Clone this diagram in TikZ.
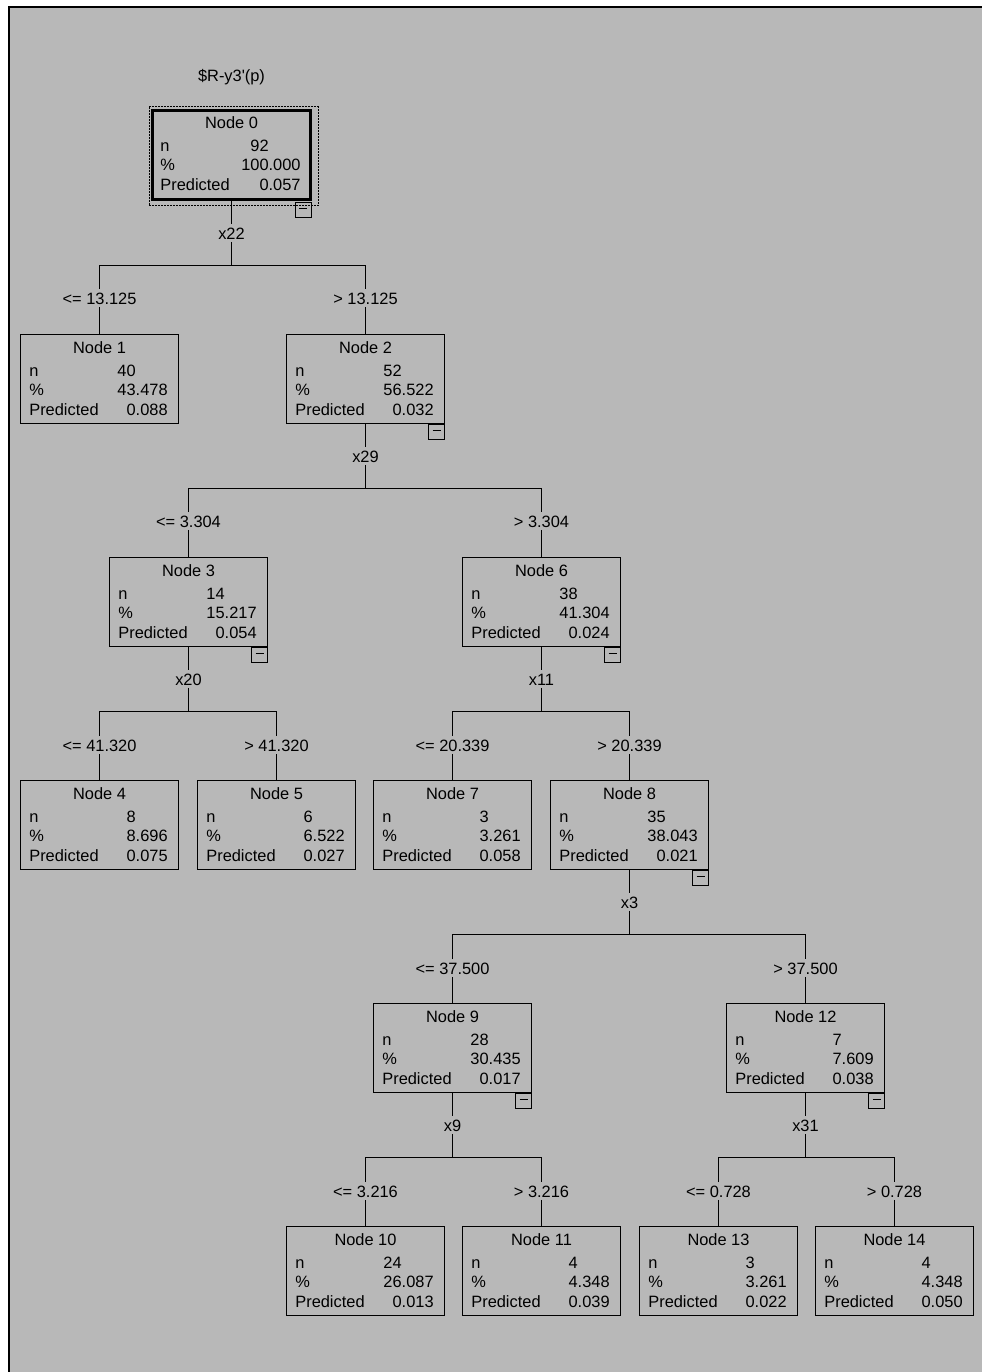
\documentclass[tikz,border=0pt]{standalone}
\usepackage{fontspec}
\newfontfamily\uifont{Liberation Sans}
\usetikzlibrary{calc}
\definecolor{bggray}{RGB}{184,184,184}
\tikzset{
  txt/.style={font=\uifont\fontsize{8.2}{10}\selectfont, inner sep=0pt},
  tbox/.style={draw, line width=0.55pt, minimum width=79pt, minimum height=44.5pt, inner sep=0pt, anchor=north},
  lbl/.style={txt, text height=6pt, text depth=0pt, minimum height=8.5pt},
  ln/.style={line width=0.55pt},
  cbox/.style={draw, line width=0.55pt, minimum width=8pt, minimum height=7.5pt, inner sep=0pt, anchor=north east,
    path picture={\draw[line width=0.55pt] ([xshift=2pt,yshift=0.5pt]path picture bounding box.west) -- ([xshift=-2pt,yshift=0.5pt]path picture bounding box.east);}},
}
% name, cx, top, title, n, pct, pred, nref
\newcommand\tnode[9][]{%
  \node[tbox,#1] (#2) at (#3,#4) {};
  \node[txt,anchor=base] (#2t) at ([yshift=-10pt]#2.north) {#5};
  \node[txt,anchor=base west] (#2a) at ([xshift=4.5pt,yshift=-21.25pt]#2.north west) {n};
  \node[txt,anchor=base west] (#2b) at ([xshift=4.5pt,yshift=-30.75pt]#2.north west) {\%};
  \node[txt,anchor=base west] (#2c) at ([xshift=4.5pt,yshift=-40.75pt]#2.north west) {Predicted};
  \node[txt,anchor=base east] (#2d) at ([xshift=-5.5pt,yshift=-21.25pt]#2.north east) {\rlap{#6}\phantom{#9}};
  \node[txt,anchor=base east] (#2e) at ([xshift=-5.5pt,yshift=-30.75pt]#2.north east) {#7};
  \node[txt,anchor=base east] (#2f) at ([xshift=-5.5pt,yshift=-40.75pt]#2.north east) {#8};
}
% parent, split, left, right, bar y
\newcommand\conn[5]{%
  \coordinate (#2bar) at (#2.south |- 0,#5);
  \draw[ln] (#1.south) -- (#2.north);
  \draw[ln] (#2.south) -- (#2bar);
  \draw[ln] (#3c.north) -- (#3c.north |- #2bar) -- (#4c.north |- #2bar) -- (#4c.north);
  \draw[ln] (#3c.south) -- (#3.north);
  \draw[ln] (#4c.south) -- (#4.north);
}
\begin{document}
\begin{tikzpicture}[x=0.5pt,y=-0.5pt]
\useasboundingbox (0,0) rectangle (982,1372);
\fill[white] (0,0) rectangle (982,1372);
\fill[bggray] (8,6) rectangle (982,1372);
\fill[black] (8,6) rectangle (10,1372);
\fill[black] (8,6) rectangle (982,8);

\node[txt] (title) at (231.5,77) {\$R-y3'(p)};

\tnode[line width=1.5pt]{n0}{231.5}{108.5}{Node 0}{92}{100.000}{0.057}{00.000}
\draw[line width=0.5pt, dash pattern=on 1pt off 0.5pt] ([shift={(-2,-2)}]n0.north west) rectangle ([shift={(6,5)}]n0.south east);
\tnode{n1}{99.5}{333.5}{Node 1}{40}{43.478}{0.088}{43.478}
\tnode{n2}{365.5}{333.5}{Node 2}{52}{56.522}{0.032}{56.522}
\tnode{n3}{188.5}{556.5}{Node 3}{14}{15.217}{0.054}{15.217}
\tnode{n6}{541.5}{556.5}{Node 6}{38}{41.304}{0.024}{41.304}
\tnode{n4}{99.5}{779.5}{Node 4}{8}{8.696}{0.075}{8.696}
\tnode{n5}{276.5}{779.5}{Node 5}{6}{6.522}{0.027}{6.522}
\tnode{n7}{452.5}{779.5}{Node 7}{3}{3.261}{0.058}{3.261}
\tnode{n8}{629.5}{779.5}{Node 8}{35}{38.043}{0.021}{38.043}
\tnode{n9}{452.5}{1002.5}{Node 9}{28}{30.435}{0.017}{30.435}
\tnode{n12}{805.5}{1002.5}{Node 12}{7}{7.609}{0.038}{7.609}
\tnode{n10}{365.5}{1225.5}{Node 10}{24}{26.087}{0.013}{26.087}
\tnode{n11}{541.5}{1225.5}{Node 11}{4}{4.348}{0.039}{4.348}
\tnode{n13}{718.5}{1225.5}{Node 13}{3}{3.261}{0.022}{3.261}
\tnode{n14}{894.5}{1225.5}{Node 14}{4}{4.348}{0.050}{4.348}

\node[cbox] (m0) at ([yshift=-0.5pt]n0.south east) {};
\node[cbox] (m2) at (n2.south east) {};
\node[cbox] (m3) at (n3.south east) {};
\node[cbox] (m6) at (n6.south east) {};
\node[cbox] (m8) at (n8.south east) {};
\node[cbox] (m9) at (n9.south east) {};
\node[cbox] (m12) at (n12.south east) {};

% split labels
\node[lbl] (s0) at (231.5,233) {x22};
\node[lbl] (s2) at (365.5,456) {x29};
\node[lbl] (s3) at (188.5,679) {x20};
\node[lbl] (s6) at (541.5,679) {x11};
\node[lbl] (s8) at (629.5,902) {x3};
\node[lbl] (s9) at (452.5,1125) {x9};
\node[lbl] (s12) at (805.5,1125) {x31};

% condition labels
\node[lbl] (n1c) at (99.5,298) {<= 13.125};
\node[lbl] (n2c) at (365.5,298) {> 13.125};
\node[lbl] (n3c) at (188.5,521) {<= 3.304};
\node[lbl] (n6c) at (541.5,521) {> 3.304};
\node[lbl] (n4c) at (99.5,745) {<= 41.320};
\node[lbl] (n5c) at (276.5,745) {> 41.320};
\node[lbl] (n7c) at (452.5,745) {<= 20.339};
\node[lbl] (n8c) at (629.5,745) {> 20.339};
\node[lbl] (n9c) at (452.5,968) {<= 37.500};
\node[lbl] (n12c) at (805.5,968) {> 37.500};
\node[lbl] (n10c) at (365.5,1191) {<= 3.216};
\node[lbl] (n11c) at (541.5,1191) {> 3.216};
\node[lbl] (n13c) at (718.5,1191) {<= 0.728};
\node[lbl] (n14c) at (894.5,1191) {> 0.728};

\conn{n0}{s0}{n1}{n2}{265.5}
\conn{n2}{s2}{n3}{n6}{488.5}
\conn{n3}{s3}{n4}{n5}{711.5}
\conn{n6}{s6}{n7}{n8}{711.5}
\conn{n8}{s8}{n9}{n12}{934.5}
\conn{n9}{s9}{n10}{n11}{1157.5}
\conn{n12}{s12}{n13}{n14}{1157.5}
\end{tikzpicture}
\end{document}
